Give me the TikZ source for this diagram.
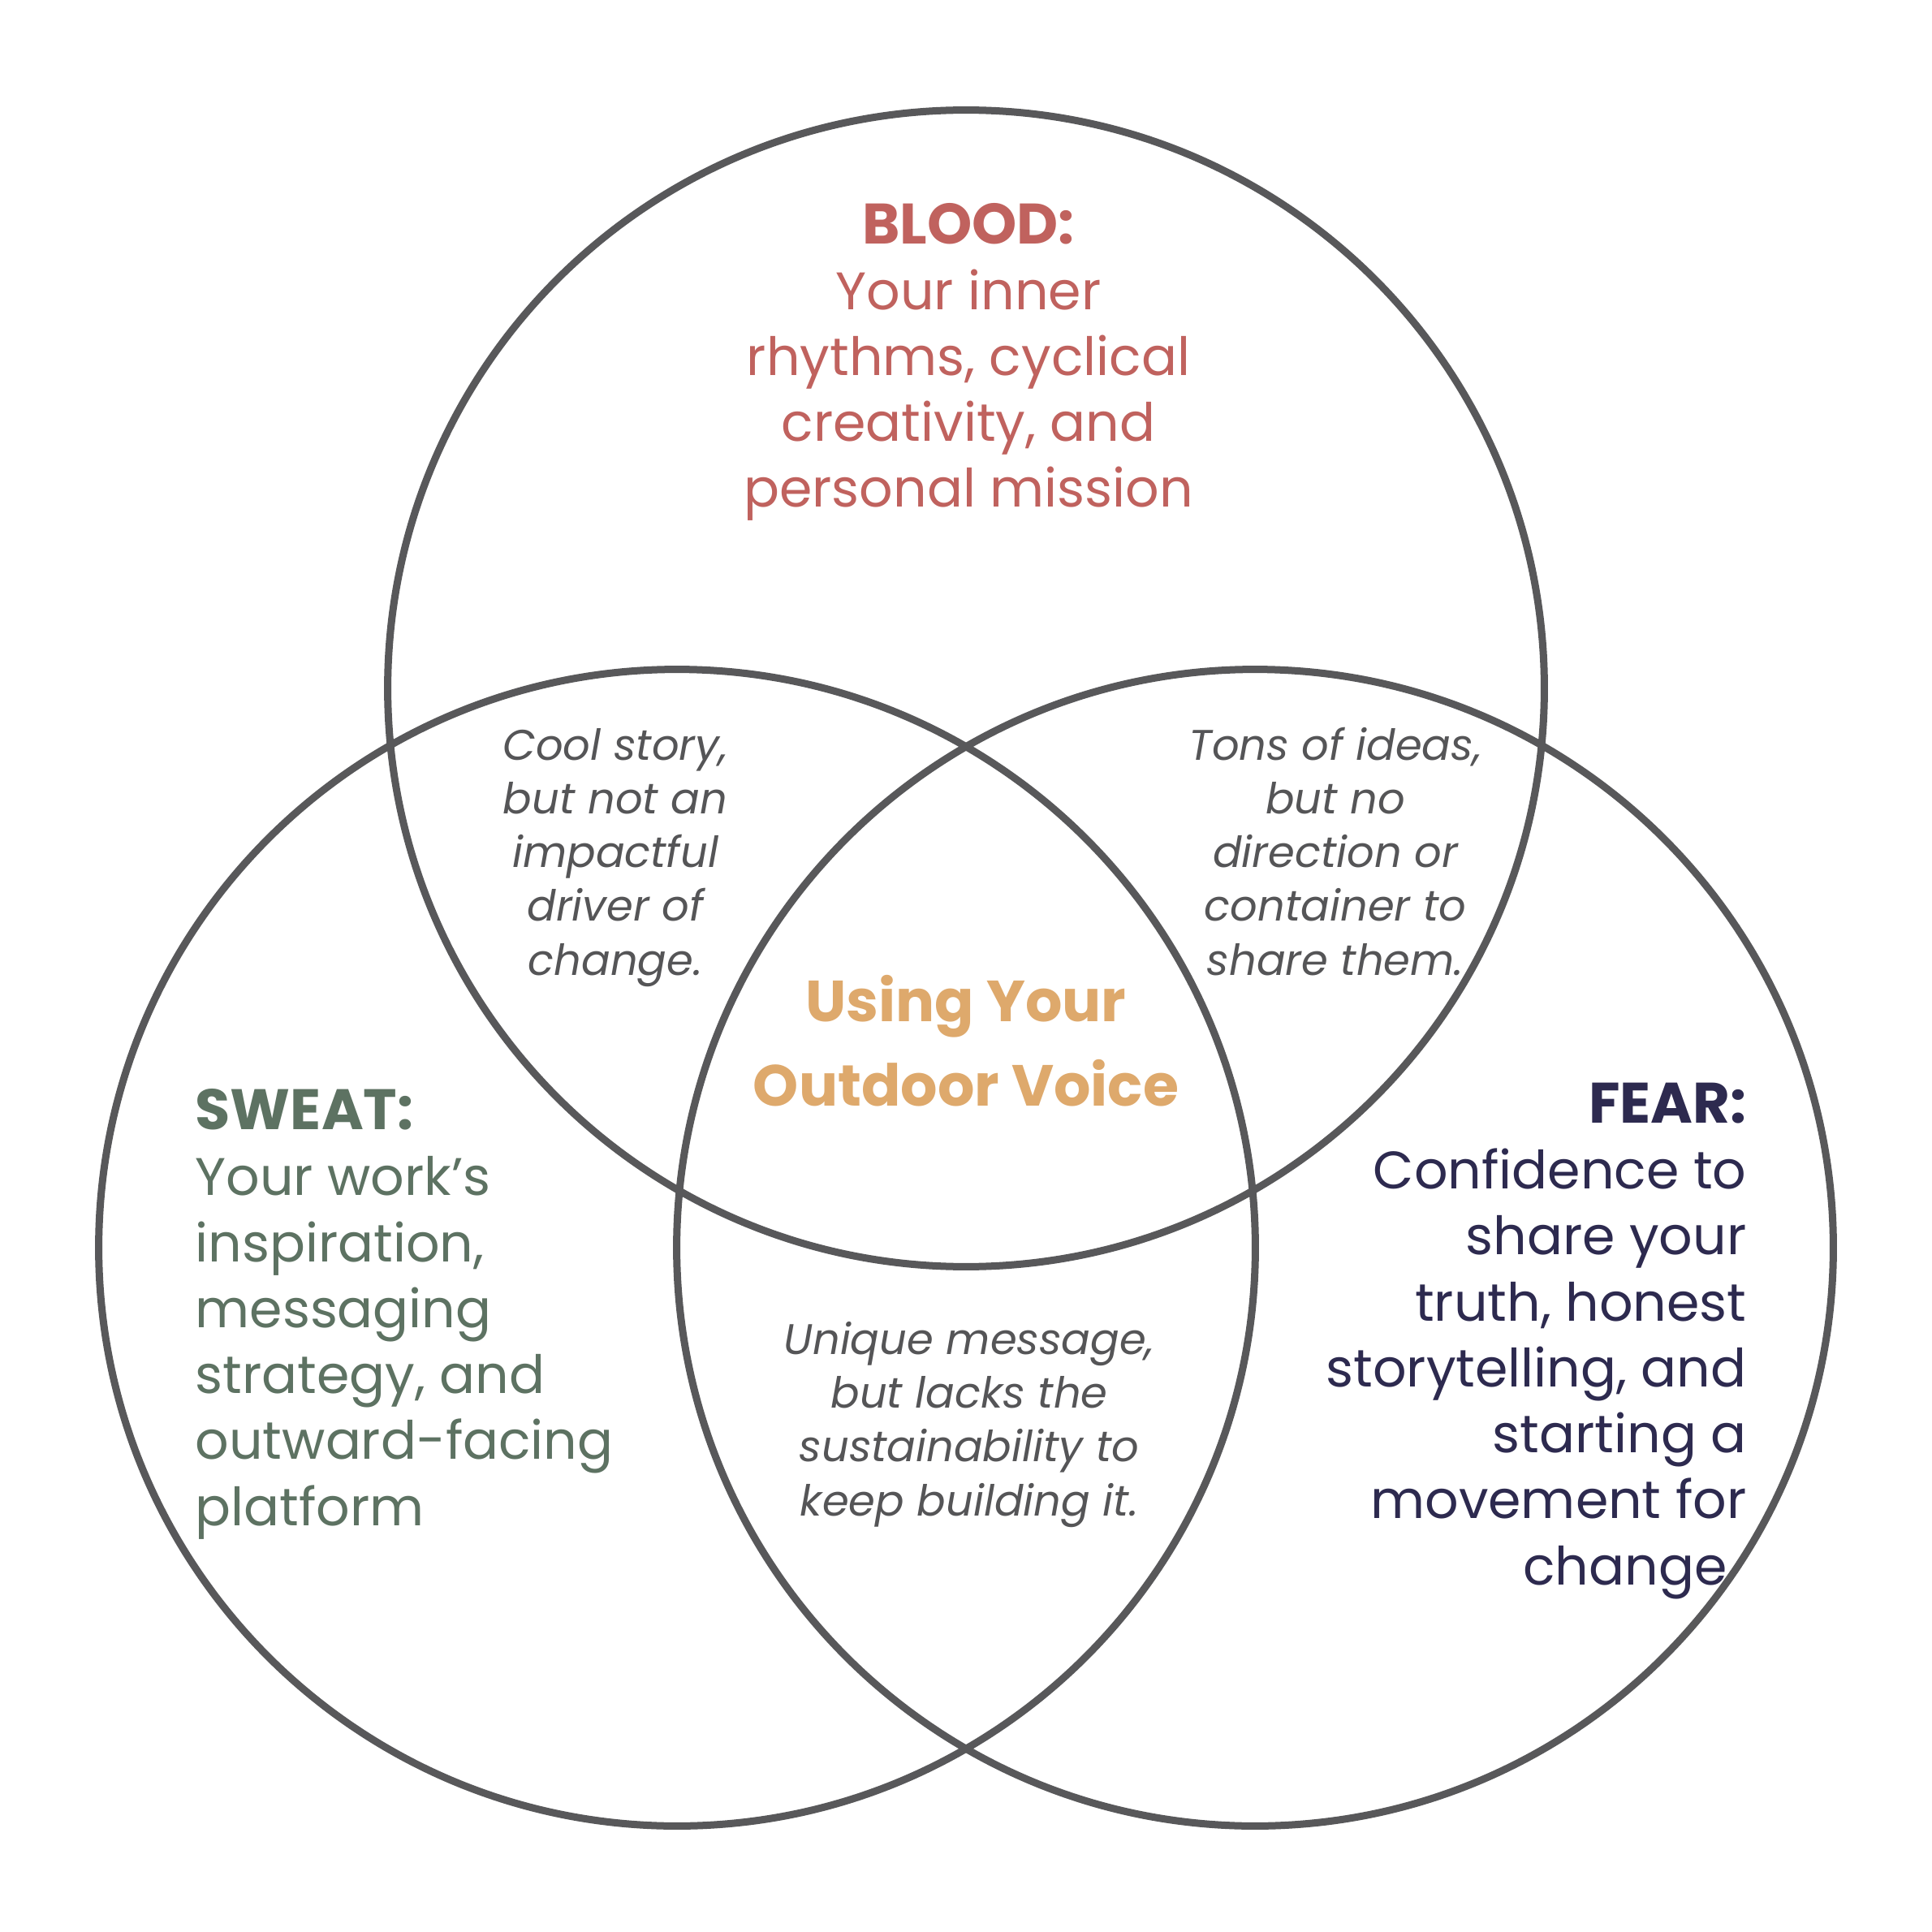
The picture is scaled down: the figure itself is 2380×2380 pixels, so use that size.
\documentclass[tikz,border=0pt]{standalone}
\usepackage{fontspec}
\setmainfont{Poppins}
\definecolor{ring}{RGB}{88,88,90}
\definecolor{bloodc}{RGB}{192,98,94}
\definecolor{sweatc}{RGB}{93,114,98}
\definecolor{fearc}{RGB}{45,42,79}
\definecolor{goldc}{RGB}{222,169,108}
\definecolor{notec}{RGB}{85,85,87}
\tikzset{
  ringline/.style={draw=ring,line width=2.56pt},
  bodytext/.style={inner sep=0pt,anchor=base,font=\fontsize{18.5}{23.1}\selectfont},
  notetext/.style={inner sep=0pt,anchor=base,align=center,text=notec,font=\fontsize{15}{18.8}\selectfont\itshape},
  goldtext/.style={inner sep=0pt,anchor=base,align=center,text=goldc,font=\fontsize{20.3}{29.5}\selectfont\bfseries},
}
\newcommand{\ttl}[1]{{\fontsize{20}{23.1}\selectfont\bfseries #1}}
\begin{document}
\begin{tikzpicture}[x=0.01cm,y=-0.01cm]
\useasboundingbox[fill=white] (0,0) rectangle (2380,2380);
% texts (anchored at the baseline of their last line)
\node[bodytext,align=center,text=bloodc] (blood) at (1193,625)
  {\ttl{BLOOD:}\\Your inner\\rhythms, cyclical\\creativity, and\\personal mission};
\node[bodytext,align=left,text=sweatc,anchor=base west] (sweat) at (240,1879)
  {\ttl{SWEAT:}\\Your work’s\\inspiration,\\messaging\\strategy, and\\outward-facing\\platform};
\node[bodytext,align=right,text=fearc,anchor=base east] (fear) at (2152,1952)
  {\ttl{FEAR:}\\Confidence to\\share your\\truth, honest\\storytelling, and\\starting a\\movement for\\change\kern6.8pt};
\node[notetext] (bs) at (758,1201) {Cool story,\\but not an\\impactful\\driver of\\change.};
\node[notetext] (bf) at (1645,1201) {Tons of ideas,\\but no\\direction or\\container to\\share them.};
\node[notetext] (sf) at (1194,1867) {Unique message,\\but lacks the\\sustainability to\\keep building it.};
\node[goldtext] (core) at (1190,1362) {Using Your\\Outdoor Voice};
% circles
\node[ringline,circle,minimum size=14.24cm,inner sep=0pt] (top) at (1190,848) {};
\node[ringline,circle,minimum size=14.24cm,inner sep=0pt] (left) at (834,1537) {};
\node[ringline,circle,minimum size=14.24cm,inner sep=0pt] (right) at (1546,1537) {};
\end{tikzpicture}
\end{document}
